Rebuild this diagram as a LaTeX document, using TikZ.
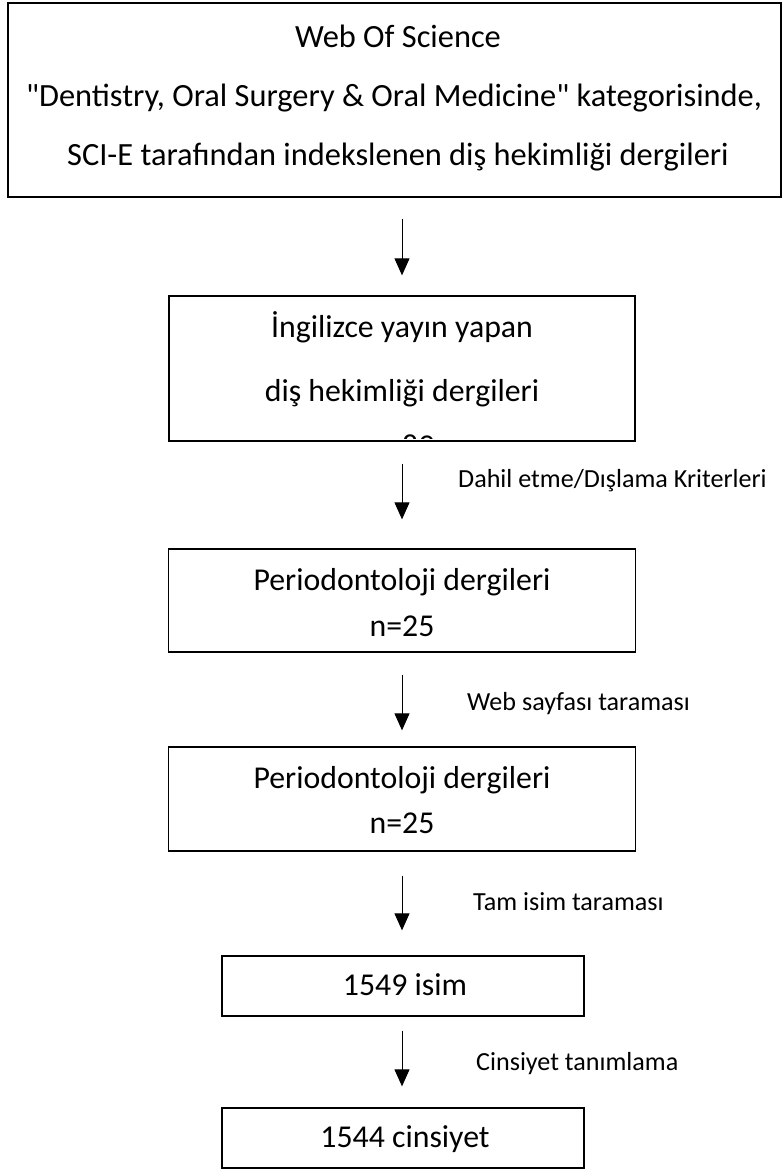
\documentclass[tikz,border=0pt]{standalone}
\usepackage{fontspec}
\setmainfont{Carlito}[Ligatures=TeXOff]
\usetikzlibrary{arrows.meta}
\tikzset{
  box/.style={draw=black, line width=1.3pt, inner sep=0pt},
  txt/.style={inner sep=0pt, anchor=base, font=\fontsize{31.8}{36}\selectfont},
  toptxt/.style={inner sep=0pt, anchor=base, font=\fontsize{32.4}{36}\selectfont},
  lbl/.style={inner sep=0pt, anchor=base west, font=\fontsize{26.1}{30}\selectfont},
  arr/.style={line width=1pt, -{Triangle[width=15pt,length=17pt]}}
}
\begin{document}
\begin{tikzpicture}[x=1pt,y=-1pt]
\useasboundingbox (0,0) rectangle (782,1169);
% boxes
\node[box, minimum width=773pt, minimum height=194pt] (b1) at (394.5,100) {};
\node[box, minimum width=466pt, minimum height=145pt] (b2) at (402,368.5) {};
\node[box, minimum width=467pt, minimum height=103pt] (b3) at (402,600.5) {};
\node[box, minimum width=467pt, minimum height=104pt] (b4) at (402,799) {};
\node[box, minimum width=362pt, minimum height=60pt] (b5) at (403,986) {};
\node[box, minimum width=362pt, minimum height=60pt] (b6) at (403,1138) {};
% texts
\node[toptxt] (t1a) at (398,47.5) {Web Of Science};
\node[toptxt] (t1b) at (394,107) {"Dentistry, Oral Surgery \& Oral Medicine" kategorisinde,};
\node[toptxt] (t1c) at (398,166) {SCI-E tarafından indekslenen diş hekimliği dergileri};
\node[txt] (t2a) at (402,337.5) {İngilizce yayın yapan};
\node[txt] (t2b) at (402,401.7) {diş hekimliği dergileri};
\begin{scope}
\clip (b2.north west) rectangle ([yshift=3pt]b2.south east);
\node[txt] (t2c) at (402,456) {n=89};
\end{scope}
\node[txt] (t3a) at (402,590) {Periodontoloji dergileri};
\node[txt] (t3b) at (402,636) {n=25};
\node[txt] (t4a) at (402,788) {Periodontoloji dergileri};
\node[txt] (t4b) at (402,833) {n=25};
\node[txt] (t5) at (405,995.7) {1549 isim};
\node[txt] (t6) at (405,1147) {1544 cinsiyet};
% arrows
\draw[arr] ([yshift=-21pt]b1.south -| b2.north) -- ([yshift=20pt]b2.north);
\draw[arr] ([yshift=-22pt]b2.south) -- ([yshift=29pt]b3.north);
\draw[arr] ([yshift=-22pt]b3.south) -- ([yshift=16pt]b4.north);
\draw[arr] ([yshift=-24pt]b4.south) -- ([yshift=25pt]b5.north -| b4.south);
\draw[arr] ([yshift=-14pt]b5.south -| b4.south) -- ([yshift=21pt]b6.north -| b4.south);
% labels
\node[lbl] (l2) at (458,487) {Dahil etme/Dışlama Kriterleri};
\node[lbl] (l3) at (467,710) {Web sayfası taraması};
\node[lbl] (l4) at (473,910.7) {Tam isim taraması};
\node[lbl] (l5) at (476,1070) {Cinsiyet tanımlama};
\end{tikzpicture}
\end{document}
